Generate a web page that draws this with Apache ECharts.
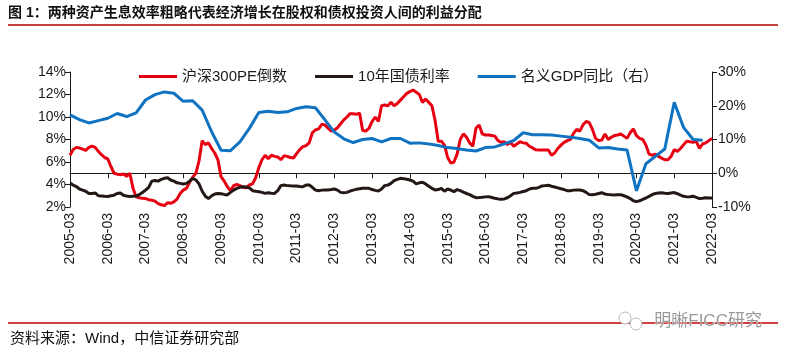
<!DOCTYPE html>
<html><head><meta charset="utf-8">
<script src="https://cdn.jsdelivr.net/npm/echarts@6/dist/echarts.min.js"></script>
<style>html,body{margin:0;padding:0;background:#fff}#c{width:794px;height:357px}</style>
</head><body><div id="c"></div>
<script>
var titleText = '图 1：两种资产生息效率粗略代表经济增长在股权和债权投资人间的利益分配';
var sourceText = '资料来源：Wind，中信证券研究部';
var watermarkText = '明晰FICC研究';
var seriesNames = ['沪深300PE倒数', '10年国债利率', '名义GDP同比（右）'];
var startYear = 2005, startMonth = 3, endYear = 2022, endMonth = 3;
var leftTicks = {min: 2, max: 14, interval: 2};
var rightTicks = {min: -10, max: 30, interval: 10};

// monthly, 2005-03 .. 2022-03 (%)
var peInverse = [
6.6,7.1,7.3,7.25,7.15,7.03,7.3,7.42,7.3,6.95,
6.65,6.4,6.28,5.6,5.0,4.92,4.87,4.93,4.72,5.0,
3.7,2.9,2.82,2.78,2.75,2.65,2.6,2.52,2.3,2.2,
2.12,2.38,2.33,2.45,2.7,3.2,3.5,3.66,4.2,4.65,
5.0,6.1,7.9,7.55,7.7,7.2,6.8,6.2,4.7,4.3,
3.8,3.45,3.9,4.0,3.9,3.75,3.7,3.96,4.05,4.6,
5.5,6.2,6.6,6.3,6.6,6.5,6.45,6.2,6.55,6.5,
6.4,6.35,6.75,7.1,7.36,7.45,7.7,8.6,8.85,8.95,
9.35,9.3,9.0,8.75,8.85,9.05,9.4,9.75,10.0,10.3,
10.28,10.24,10.35,8.8,8.75,9.0,9.6,10.0,9.6,11.0,
11.07,11.0,11.3,11.0,11.2,11.5,11.8,12.1,12.25,12.4,
12.2,12.0,11.3,11.6,11.3,11.0,9.7,7.85,7.85,7.5,
6.4,5.9,6.0,6.7,8.0,8.5,8.2,7.7,7.4,9.0,
9.29,8.5,8.4,8.4,8.35,8.3,7.9,7.75,7.8,7.55,
7.75,7.4,7.6,7.8,7.7,7.66,7.4,7.25,7.08,7.07,
7.07,7.07,7.07,6.6,6.8,7.2,7.5,7.75,7.9,8.0,
8.55,8.9,8.75,9.3,9.6,9.5,8.9,8.1,7.9,7.96,
8.5,8.0,8.2,8.35,8.4,8.5,8.3,8.1,8.6,8.95,
8.35,8.1,8.0,7.5,6.7,6.6,6.7,6.5,6.35,6.2,
6.2,6.5,7.1,6.95,7.2,7.55,7.85,7.8,7.76,7.85,
7.2,7.6,7.7,7.9,8.1];

var bond10y = [
4.12,3.95,3.82,3.6,3.5,3.4,3.2,3.2,3.25,3.0,
2.98,2.95,2.93,3.0,3.05,3.2,3.25,3.05,2.97,2.93,
2.95,2.97,3.1,3.29,3.5,3.75,4.3,4.35,4.3,4.45,
4.55,4.6,4.4,4.3,4.15,4.1,4.05,4.1,4.3,4.55,
4.4,4.05,3.4,2.95,2.75,3.0,3.15,3.2,3.18,3.12,
3.07,3.3,3.5,3.66,3.75,3.8,3.78,3.7,3.45,3.4,
3.36,3.3,3.21,3.27,3.23,3.21,3.45,3.9,3.95,3.9,
3.88,3.87,3.87,3.83,3.8,3.95,3.95,3.75,3.5,3.45,
3.5,3.51,3.51,3.55,3.6,3.5,3.3,3.27,3.3,3.42,
3.5,3.57,3.62,3.66,3.66,3.66,3.55,3.48,3.42,3.6,
3.9,3.95,4.1,4.35,4.46,4.55,4.52,4.46,4.4,4.3,
4.05,4.15,4.2,4.05,3.85,3.66,3.52,3.55,3.66,3.4,
3.6,3.5,3.36,3.55,3.45,3.32,3.2,3.1,2.95,2.83,
2.84,2.86,2.9,2.92,2.85,2.78,2.72,2.69,2.72,2.82,
3.0,3.21,3.25,3.3,3.38,3.45,3.6,3.66,3.66,3.75,
3.87,3.9,3.93,3.85,3.78,3.7,3.62,3.55,3.45,3.45,
3.5,3.51,3.51,3.45,3.3,3.1,3.08,3.13,3.2,3.27,
3.15,3.1,3.08,3.07,3.1,3.1,3.0,2.9,2.75,2.56,
2.48,2.55,2.68,2.8,2.95,3.1,3.2,3.24,3.26,3.22,
3.2,3.25,3.28,3.18,3.05,2.95,2.9,2.92,2.96,2.85,
2.75,2.78,2.82,2.8,2.81];

// quarterly, 2005-03 .. 2021-12 (%), right axis
var nominalGDP = [
17.3,15.9,14.9,15.6, 16.3,17.7,16.8,17.9, 21.7,23.3,24.1,23.7,
21.3,21.5,18.7,12.3, 6.8,6.7,9.3,13.3, 18.0,18.4,18.0,18.2,
19.2,19.7,19.4,15.8, 12.2,10.2,9.1,10.0, 10.3,9.3,10.3,10.3,
8.9,9.0,8.7,8.2, 7.6,7.3,6.9,6.6, 7.6,7.8,8.7,9.7,
12.0,11.4,11.4,11.3, 11.0,10.7,10.3,9.8, 7.5,7.6,7.2,6.9,
-5.2,2.8,5.0,7.2, 21.0,13.5,10.0,9.8];

var months = [];
(function(){
  var y = startYear, m = startMonth;
  while (y < endYear || (y === endYear && m <= endMonth)) {
    months.push(y + '-' + (m < 10 ? '0' + m : m));
    m++; if (m > 12) { m = 1; y++; }
  }
})();
var gdpMonthly = months.map(function(_, i){ return i % 3 === 0 && nominalGDP[i/3] !== undefined ? nominalGDP[i/3] : null; });

var FONT = 'Arial, "Liberation Sans", "Noto Sans CJK SC", sans-serif';
var chart = echarts.init(document.getElementById('c'), null, {renderer: 'canvas'});
var axisLineStyle = {color: '#1a1a1a', width: 1};
chart.setOption({
  animation: false,
  backgroundColor: '#fff',
  textStyle: {fontFamily: FONT},
  grid: {left: 70, right: 82, top: 72, bottom: 150},
  legend: {
    top: 64, left: 134, itemWidth: 38, itemHeight: 15, itemGap: 28,
    textStyle: {fontSize: 15, color: '#1a1a1a', fontFamily: FONT},
    data: seriesNames.map(function(n){ return {name: n, icon: 'path://M0,6 L38,6 L38,9 L0,9 Z'}; })
  },
  xAxis: {
    type: 'category', data: months, boundaryGap: false,
    axisLine: {lineStyle: axisLineStyle},
    axisTick: {length: 5, lineStyle: axisLineStyle, interval: function(i){ return i % 12 === 0; }},
    axisLabel: {rotate: 90, fontSize: 14, color: '#1a1a1a', margin: 6, fontFamily: FONT,
      interval: function(i){ return i % 12 === 0; }},
    splitLine: {show: false}
  },
  yAxis: [{
    type: 'value', min: leftTicks.min, max: leftTicks.max, interval: leftTicks.interval,
    axisLine: {show: true, lineStyle: axisLineStyle},
    axisTick: {show: true, length: 5, lineStyle: axisLineStyle},
    axisLabel: {formatter: '{value}%', fontSize: 14, color: '#1a1a1a', margin: 4, fontFamily: FONT},
    splitLine: {show: false}
  }, {
    type: 'value', min: rightTicks.min, max: rightTicks.max, interval: rightTicks.interval,
    axisLine: {show: true, lineStyle: axisLineStyle},
    axisTick: {show: true, length: 5, lineStyle: axisLineStyle},
    axisLabel: {formatter: '{value}%', fontSize: 14, color: '#1a1a1a', margin: 6, fontFamily: FONT},
    splitLine: {show: false}
  }],
  series: [
    {name: seriesNames[0], type: 'line', data: peInverse, yAxisIndex: 0, showSymbol: false, symbol: 'none',
      lineStyle: {color: '#E60012', width: 3}, itemStyle: {color: '#E60012'}},
    {name: seriesNames[1], type: 'line', data: bond10y, yAxisIndex: 0, showSymbol: false, symbol: 'none',
      lineStyle: {color: '#231815', width: 3}, itemStyle: {color: '#231815'}},
    {name: seriesNames[2], type: 'line', data: gdpMonthly, yAxisIndex: 1, connectNulls: true, showSymbol: false, symbol: 'none',
      lineStyle: {color: '#0F73C2', width: 3}, itemStyle: {color: '#0F73C2'}}
  ],
  graphic: [
    {type: 'text', left: 8, top: 6, style: {text: titleText, font: 'bold 14px ' + FONT, fill: '#111'}},
    {type: 'line', shape: {x1: 8, y1: 25, x2: 778, y2: 25}, style: {stroke: '#B30000', lineWidth: 1.5}},
    {type: 'line', shape: {x1: 8, y1: 323, x2: 778, y2: 323}, style: {stroke: '#C00000', lineWidth: 1.5}},
    {type: 'text', left: 10, top: 331, style: {text: sourceText, font: '15px ' + FONT, fill: '#111'}},
    {type: 'circle', shape: {cx: 625, cy: 318, r: 6}, style: {fill: '#fff', stroke: '#bbb', lineWidth: 1}},
    {type: 'circle', shape: {cx: 636, cy: 324, r: 6}, style: {fill: '#fff', stroke: '#bbb', lineWidth: 1}},
    {type: 'text', left: 654, top: 313, style: {text: watermarkText, font: '17px ' + FONT, fill: '#9a9a9a', stroke: '#fff', lineWidth: 0.5}}
  ]
});
</script></body></html>
